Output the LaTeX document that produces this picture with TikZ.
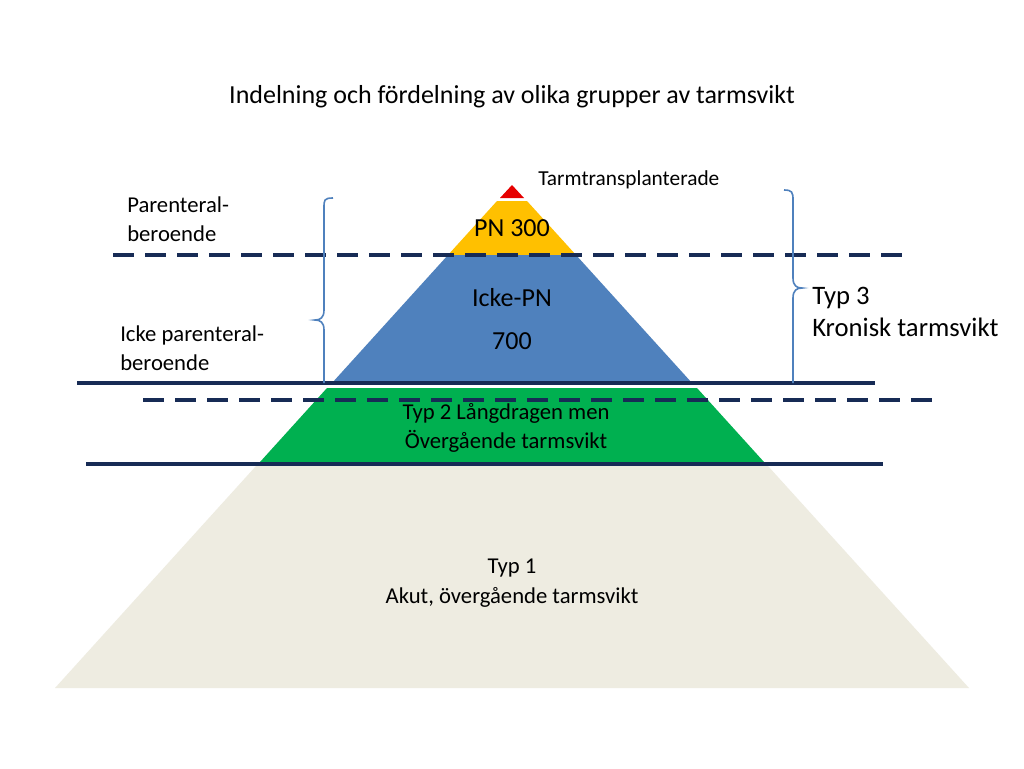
\documentclass[tikz,border=0pt]{standalone}
\usepackage{fontspec}
\setmainfont{Carlito}
\definecolor{cred}{RGB}{230,0,0}
\definecolor{cyel}{RGB}{255,192,0}
\definecolor{cblue}{RGB}{79,129,189}
\definecolor{cgreen}{RGB}{0,176,80}
\definecolor{cbeige}{RGB}{238,236,225}
\definecolor{cnavy}{RGB}{23,43,85}
\begin{document}
\begin{tikzpicture}[x=0.75pt,y=-0.75pt,
  lbl/.style={font=\fontsize{16}{20}\selectfont,align=center,inner sep=0pt},
  lbll/.style={font=\fontsize{16}{20}\selectfont,align=left,inner sep=0pt,anchor=west},
  big/.style={font=\fontsize{19.5}{24}\selectfont},
  solidline/.style={cnavy,line width=3pt},
  dashline/.style={cnavy,line width=3pt,dash pattern=on 16pt off 8pt},
  brace/.style={cblue,line width=1.2pt}]
\fill[white] (0,0) rectangle (1024,768);
\useasboundingbox (0,0) rectangle (1024,768);
\fill[cred] (512,185) -- (524,198) -- (500,198) -- cycle;
\fill[cyel] (497,201) -- (527,201) -- (576,255) -- (448,255) -- cycle;
\fill[cblue] (448,255) -- (576,255) -- (692,383) -- (332,383) -- cycle;
\fill[cgreen] (327,388) -- (697,388) -- (764,462) -- (260,462) -- cycle;
\fill[cbeige] (256,466) -- (768,466) -- (969,688) -- (55,688) -- cycle;
\coordinate (d1a) at (113,255); \coordinate (d1b) at (910,255);
\coordinate (s1a) at (77,383); \coordinate (s1b) at (875,383);
\coordinate (d2a) at (143,400); \coordinate (d2b) at (940,400);
\coordinate (s2a) at (86,464); \coordinate (s2b) at (883,464);
\draw[dashline] (d1a) -- (d1b);
\draw[solidline] (s1a) -- (s1b);
\draw[dashline] (d2a) -- (d2b);
\draw[solidline] (s2a) -- (s2b);
\draw[brace] (333,198) .. controls (324,198) and (324,200) .. (324,208) -- (324,310) .. controls (324,318) and (320,320) .. (315,320)
  .. controls (320,320) and (324,322) .. (324,330) -- (324,383);
\draw[brace] (784,190) .. controls (792,190) and (793,192) .. (793,200) -- (793,278) .. controls (793,286) and (797,288) .. (802,288)
  .. controls (797,288) and (793,290) .. (793,298) -- (793,383);
\node[lbl,big] (title) at (512,97) {Indelning och fördelning av olika grupper av tarmsvikt};
\node[lbll] (tt) at (538,180) {Tarmtransplanterade};
\node[lbl,big] (pn) at (512,228) {PN 300};
\node[lbl,big] (ipn) at (512,298) {Icke-PN};
\node[lbl,big] (n700) at (512,341) {700};
\node[lbl,font=\fontsize{17}{22}\selectfont] (t2) at (506,428) {Typ 2 Långdragen men\\Övergående tarmsvikt};
\node[lbl,font=\fontsize{17}{23}\selectfont] (t1) at (512,583) {Typ 1\\Akut, övergående tarmsvikt};
\node[lbll,font=\fontsize{17}{22}\selectfont] (pb) at (127,219) {Parenteral-\\beroende};
\node[lbll,font=\fontsize{17}{22}\selectfont] (ipb) at (120,348) {Icke parenteral-\\beroende};
\node[lbll,font=\fontsize{20}{24}\selectfont] (t3) at (812,312) {Typ 3\\Kronisk tarmsvikt};
\end{tikzpicture}
\end{document}
